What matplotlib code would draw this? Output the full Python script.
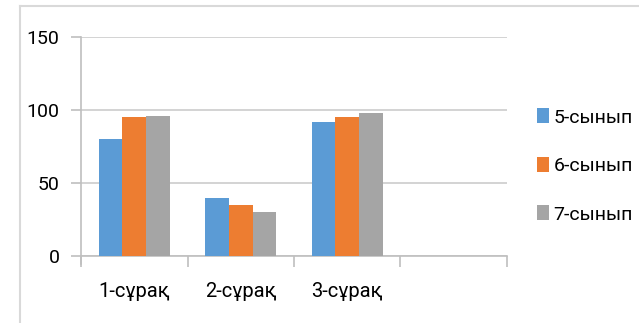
import numpy as np
import matplotlib.pyplot as plt

plt.rcParams['font.family'] = ['Roboto', 'Noto Sans', 'DejaVu Sans']

questions = ['1-сұрақ', '2-сұрақ', '3-сұрақ', '']
grades = ['5-сынып', '6-сынып', '7-сынып']
grade5 = [80, 40, 92, np.nan]
grade6 = [95, 35, 95, np.nan]
grade7 = [96, 30, 98, np.nan]
colors = ['#5B9BD5', '#ED7D31', '#A5A5A5']
yticks = [0, 50, 100, 150]

fig = plt.figure(figsize=(6.39, 3.23), dpi=100)

# chart area frame (top and left edges visible)
fig.add_artist(plt.Line2D([20 / 639, 20 / 639], [0, 1 - 6 / 323], color='#D9D9D9', lw=1.5))
fig.add_artist(plt.Line2D([20 / 639, 1], [1 - 6 / 323, 1 - 6 / 323], color='#D9D9D9', lw=1.5))

ax = fig.add_axes([81 / 639, 67 / 323, 426 / 639, 219 / 323])
x = np.arange(len(questions))
w = 1 / 4.5
for j, (vals, name) in enumerate(zip([grade5, grade6, grade7], grades)):
    ax.bar(x + (j - 1) * w, vals, width=w, color=colors[j], label=name, zorder=3)

ax.set_xlim(-0.5, len(questions) - 0.5)
ax.set_ylim(0, 150)
ax.set_yticks(yticks)
ax.grid(axis='y', color='#CCCCCC', lw=1.2, zorder=0)
ax.set_xticks(x)
ax.set_xticklabels(questions)
ax.set_xticks(np.arange(len(questions) + 1) - 0.5, minor=True)
ax.tick_params(axis='x', which='major', length=0, pad=18.5, labelsize=14.5)
ax.tick_params(axis='x', which='minor', length=8, width=1.2, color='#BFBFBF')
ax.tick_params(axis='y', length=7, width=1.2, color='#BFBFBF', pad=8.5, labelsize=14)

for side in ['top', 'right']:
    ax.spines[side].set_visible(False)
for side in ['left', 'bottom']:
    ax.spines[side].set_color('#BFBFBF')
    ax.spines[side].set_linewidth(1.2)
ax.spines['left'].set_bounds(-8 / 73 * 50, 150)

ax.legend(loc='center left', bbox_to_anchor=(537 / 639, 157 / 323),
          bbox_transform=fig.transFigure, frameon=False, borderpad=0, borderaxespad=0,
          fontsize=14, handlelength=0.62, handleheight=0.8, handletextpad=0.22,
          labelspacing=1.56)

fig.savefig('out.png', dpi=100)
